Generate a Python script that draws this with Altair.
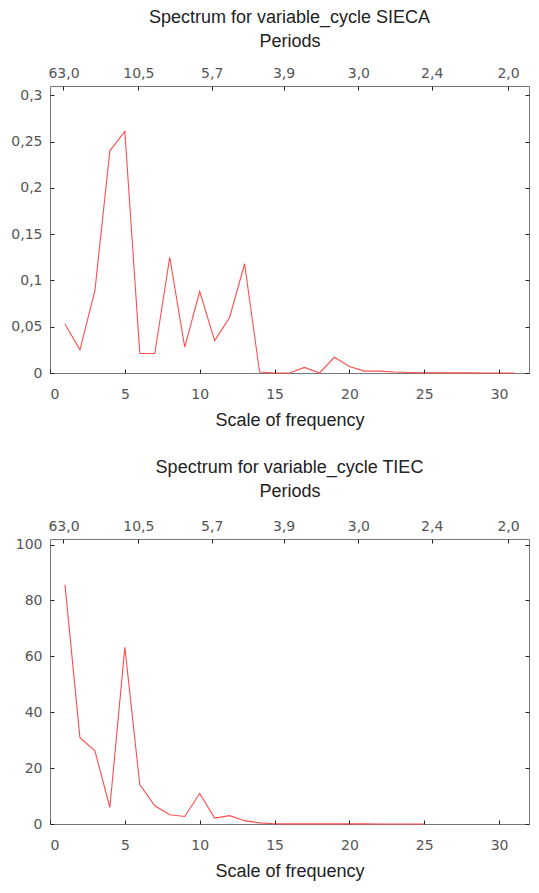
import altair as alt
import pandas as pd

# ---- data ----
freq_sieca = list(range(1, 32))
spec_sieca = [0.053, 0.025, 0.089, 0.240, 0.261, 0.021, 0.021, 0.125, 0.028, 0.088,
              0.035, 0.060, 0.118, 0.001, 0.000, 0.000, 0.006, 0.000, 0.017, 0.007,
              0.002, 0.002, 0.001, 0.0005, 0.0003, 0.0002, 0.0001, 0.0001, 0.0, 0.0, 0.0]

freq_tiec = list(range(1, 26))
spec_tiec = [85.6, 30.9, 26.2, 5.9, 63.2, 14.1, 6.5, 3.3, 2.7, 10.9,
             2.1, 3.0, 1.2, 0.4, 0.1, 0.05, 0.05, 0.04, 0.04, 0.03,
             0.03, 0.02, 0.02, 0.02, 0.02]

freq_ticks = [0, 5, 10, 15, 20, 25, 30]
period_ticks = [0.9, 5.9, 10.8, 15.6, 20.6, 25.5, 30.6]
period_labels = ["63,0", "10,5", "5,7", "3,9", "3,0", "2,4", "2,0"]
sieca_yticks = [0, 0.05, 0.1, 0.15, 0.2, 0.25, 0.3]
tiec_yticks = [0, 20, 40, 60, 80, 100]

LINE = "#ff4d4d"
TICKFONT = "DejaVu Sans"
TITLEFONT = "Liberation Sans"
TFS = 18

period_expr = " : ".join(
    f"datum.value == {v} ? '{l}'" for v, l in zip(period_ticks, period_labels)
) + " : ''"


def panel(freq, spec, title, ymax, yticks, comma, width, height, periods_pad):
    df = pd.DataFrame({"freq": freq, "spec": spec})
    xs = alt.Scale(domain=[0, 32], nice=False, zero=False)
    ys = alt.Scale(domain=[0, ymax], nice=False)
    common = dict(domain=False, grid=False, ticks=True, tickSize=4, tickWidth=1,
                  offset=-4, tickColor="#222", labelFont=TICKFONT, labelFontSize=14,
                  labelColor="#555", zindex=1)
    ylab = "replace(toString(datum.value), '.', ',')" if comma else "toString(datum.value)"
    base = alt.Chart(df)
    line = base.mark_line(color=LINE, strokeWidth=1.1).encode(
        x=alt.X("freq:Q", scale=xs,
                axis=alt.Axis(orient="bottom", values=freq_ticks, labelPadding=14,
                              title="Scale of frequency", titleFont=TITLEFONT,
                              titleFontSize=TFS, titleFontWeight="normal",
                              titleColor="#222", titlePadding=10, **common)),
        y=alt.Y("spec:Q", scale=ys,
                axis=alt.Axis(orient="left", values=yticks, labelExpr=ylab,
                              labelPadding=8, title=None, **common)),
    )
    ghost = base.mark_line(opacity=0).encode(
        x=alt.X("freq:Q", scale=xs,
                axis=alt.Axis(orient="top", values=period_ticks, labelExpr=period_expr,
                              labelPadding=6, title="Periods", titleFont=TITLEFONT,
                              titleFontSize=TFS, titleFontWeight="normal",
                              titleColor="#222", titlePadding=periods_pad, **common)),
        y=alt.Y("spec:Q", scale=ys,
                axis=alt.Axis(orient="right", values=yticks, labels=False,
                              title=None, **common)),
    )
    return alt.layer(line, ghost).resolve_axis(x="independent", y="independent").properties(
        width=width, height=height,
        title=alt.TitleParams(title, font=TITLEFONT, fontSize=TFS, fontWeight="normal",
                              color="#222", offset=5),
    )


top = panel(freq_sieca, spec_sieca, "Spectrum for variable_cycle SIECA", 0.31,
            sieca_yticks, True, 479, 287, 16)
bottom = panel(freq_tiec, spec_tiec, "Spectrum for variable_cycle TIEC", 102,
               tiec_yticks, False, 479, 285, 19)

chart = alt.vconcat(top, bottom, spacing=28).properties(
    padding={"left": 2, "top": 0, "right": 0, "bottom": 0}
).configure_view(stroke="#777", strokeWidth=1)

chart.save("out.html", embed_options={"renderer": "svg", "actions": False})
